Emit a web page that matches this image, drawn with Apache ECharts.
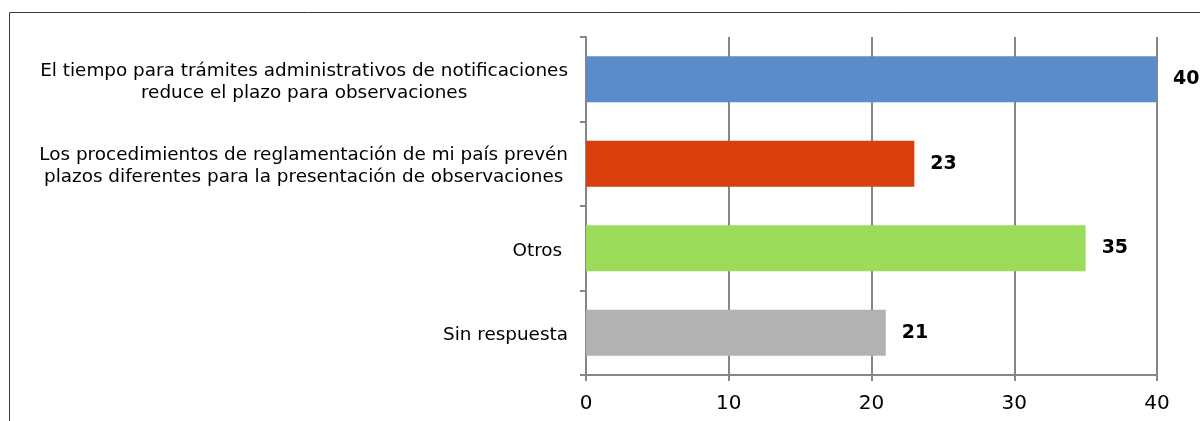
<!DOCTYPE html>
<html>
<head>
<meta charset="utf-8">
<script src="https://cdn.jsdelivr.net/npm/echarts@6/dist/echarts.min.js"></script>
<style>
  html, body { margin: 0; padding: 0; background: #fff; }
  #chart { width: 1200px; height: 421px; }
</style>
</head>
<body>
<div id="chart"></div>
<script>
// categorías (de arriba a abajo)
const categories = [
    'El tiempo para trámites administrativos de notificaciones\nreduce el plazo para observaciones',
    'Los procedimientos de reglamentación de mi país prevén\nplazos diferentes para la presentación de observaciones',
    'Otros ',
    'Sin respuesta'
]
const values = [40, 23, 35, 21]
const barColors = ['#5B8BC8', '#D93F0D', '#9CDC5B', '#B2B2B2']
const xTicks = [0, 10, 20, 30, 40]

const chart = echarts.init(document.getElementById('chart'))

chart.setOption({
    animation: false,
    grid: { left: 586, top: 37, right: 43, bottom: 46 },
    graphic: [{
        type: 'rect',
        shape: { x: 9.5, y: 12.5, width: 1400, height: 600 },
        style: { fill: 'none', stroke: '#3a3a3a', lineWidth: 1 },
        silent: true
    }],
    xAxis: {
        type: 'value',
        min: xTicks[0],
        max: xTicks[xTicks.length - 1],
        interval: 10,
        axisLine: { show: true, lineStyle: { color: '#868686', width: 2 } },
        axisTick: { show: true, length: 6, lineStyle: { color: '#868686', width: 2 } },
        splitLine: { show: true, lineStyle: { color: '#868686', width: 2 } },
        axisLabel: {
            color: '#000',
            fontSize: 20,
            fontFamily: 'DejaVu Sans',
            margin: 19
        }
    },
    yAxis: {
        type: 'category',
        data: categories,
        inverse: true,
        axisLine: { show: true, lineStyle: { color: '#868686', width: 2 } },
        axisTick: { show: true, length: 6, lineStyle: { color: '#868686', width: 2 } },
        axisLabel: {
            color: '#000',
            fontSize: 18,
            fontFamily: 'DejaVu Sans',
            align: 'right',
            margin: 18,
            padding: [5, 0, 0, 0],
            // cada línea centrada dentro del bloque
            formatter: v => v.split('\n').map(l => '{c|' + l + '}').join('\n'),
            rich: {
                c: { align: 'center', fontSize: 18.4, lineHeight: 22, color: '#000', fontFamily: 'DejaVu Sans' }
            }
        }
    },
    series: [{
        type: 'bar',
        data: values.map((v, i) => ({ value: v, itemStyle: { color: barColors[i] } })),
        barCategoryGap: '45.5%',
        label: {
            show: true,
            position: 'right',
            distance: 16,
            color: '#000',
            fontSize: 19,
            fontWeight: 'bold',
            fontFamily: 'DejaVu Sans'
        }
    }]
})
</script>
</body>
</html>
